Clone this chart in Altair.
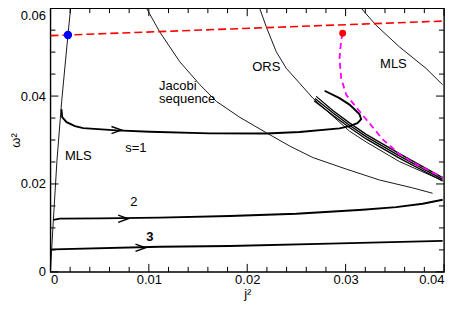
import altair as alt
import pandas as pd

# ---------------- data (j^2, omega^2) ----------------
mls_left_j = [0, 0.00012, 0.00030, 0.00066, 0.00114, 0.00178, 0.00205]
mls_left_w = [0, 0.00496, 0.01196, 0.02527, 0.0388, 0.05391, 0.06]

mls_right_j = [0.03158, 0.0331, 0.03546, 0.03817, 0.03986]
mls_right_w = [0.06, 0.0561, 0.05121, 0.04631, 0.04257]

jacobi_j = [0.00976, 0.01111, 0.01314, 0.01517, 0.01686, 0.01923, 0.02194, 0.0243, 0.02667, 0.03006, 0.03343, 0.03681, 0.03884]
jacobi_w = [0.06, 0.05459, 0.04782, 0.04263, 0.0388, 0.03519, 0.03165, 0.02865, 0.02601, 0.02339, 0.02091, 0.01911, 0.01789]

ors_j = [0.02126, 0.02194, 0.02295, 0.02397, 0.02532, 0.02667, 0.0287, 0.03039, 0.03209, 0.03546, 0.03986]
ors_w = [0.06, 0.05572, 0.05008, 0.04631, 0.04293, 0.03954, 0.03542, 0.03203, 0.02955, 0.02511, 0.02075]

bundle_a_j = [0.02701, 0.0287, 0.03039, 0.03209, 0.03546, 0.03986]
bundle_a_w = [0.03993, 0.0367, 0.0339, 0.03129, 0.02691, 0.02145]
bundle_b_j = [0.02689, 0.0287, 0.03039, 0.03209, 0.03546, 0.03986]
bundle_b_w = [0.03943, 0.03618, 0.03338, 0.03077, 0.02639, 0.02105]
bundle_c_j = [0.02679, 0.0287, 0.03039, 0.03209, 0.03546, 0.03986]
bundle_c_w = [0.03893, 0.03566, 0.03286, 0.03025, 0.02587, 0.02068]

s1_j = [0.00112, 0.00119, 0.00164, 0.00249, 0.00333, 0.00672, 0.0101, 0.01618, 0.02194, 0.02532,
        0.02938, 0.03039, 0.0312, 0.03158, 0.03141, 0.0309, 0.03039, 0.02938, 0.02786]
s1_w = [0.037, 0.03519, 0.03406, 0.03316, 0.03271, 0.03219, 0.03187, 0.03151, 0.03147, 0.03181,
        0.03264, 0.03316, 0.03384, 0.03474, 0.03587, 0.037, 0.03806, 0.03954, 0.04121]

s2_j = [0.00028, 0.00096, 0.00502, 0.01111, 0.01821, 0.02498, 0.03174, 0.03513, 0.03783, 0.03986]
s2_w = [0.01184, 0.01211, 0.01218, 0.01234, 0.0127, 0.01324, 0.01414, 0.01473, 0.0155, 0.0164]

s3_j = [0.00012, 0.00028, 0.01111, 0.01821, 0.02836, 0.03986]
s3_w = [0.00512, 0.00512, 0.00571, 0.00587, 0.00643, 0.00706]

red_j = [0.0, 0.04]
red_w = [0.05375, 0.05707]

magenta_j = [0.02971, 0.02955, 0.02938, 0.02955, 0.03006, 0.03141, 0.03377, 0.03546, 0.03716, 0.03986]
magenta_w = [0.0543, 0.05272, 0.04857, 0.04406, 0.04031, 0.03654, 0.03016, 0.02678, 0.02452, 0.0215]

blue_dot = (0.00178, 0.0539)
red_dot = (0.0297, 0.0543)

arrow_j = [0.00722, 0.0079, 0.00966]
arrow_w = [0.03226, 0.0121, 0.00549]

label_text = ["MLS", "s=1", "2", "Jacobi", "sequence", "ORS", "MLS"]
label_j = [0.00147, 0.00868, 0.00847, 0.01104, 0.01104, 0.02194, 0.03486]
label_w = [0.0264, 0.0282, 0.0158, 0.0424, 0.03925, 0.0467, 0.04737]
label_align = ["left", "center", "center", "left", "left", "center", "center"]
bold_text = ["3"]
bold_j = [0.0101]
bold_w = [0.0079]

x_major = [0, 0.01, 0.02, 0.03, 0.04]
x_minor = [0.002, 0.004, 0.006, 0.008, 0.012, 0.014, 0.016, 0.018,
           0.022, 0.024, 0.026, 0.028, 0.032, 0.034, 0.036, 0.038]
y_major = [0, 0.02, 0.04, 0.06]
y_minor = [0.005, 0.01, 0.015, 0.025, 0.03, 0.035, 0.045, 0.05, 0.055]

W, H = 394, 264
FONT = "Liberation Sans"


def curve(name, js, ws):
    return pd.DataFrame({"j": js, "w": ws, "series": name, "order": list(range(len(js)))})


X = alt.X("j:Q", scale=alt.Scale(domain=[0, 0.04], nice=False, zero=False),
          axis=alt.Axis(values=x_major, format="~g", title="j²", tickSize=0, domain=False,
                        grid=False, labelPadding=2, titlePadding=1))
Y = alt.Y("w:Q", scale=alt.Scale(domain=[0, 0.06], nice=False, zero=False),
          axis=alt.Axis(values=y_major, format="~g", title="ω²", tickSize=0, domain=False,
                        grid=False, labelPadding=5,
                        labelOffset={"condition": {"test": "datum.value > 0.059", "value": 7}, "value": 0},
                        titleX=-35, titleBaseline="middle"))


def lines(dfs, **mark):
    df = pd.concat(dfs, ignore_index=True)
    return alt.Chart(df).mark_line(clip=True, **mark).encode(
        x=X, y=Y, detail="series:N", order="order:Q")


thin = lines([curve("mlsl", mls_left_j, mls_left_w), curve("mlsr", mls_right_j, mls_right_w),
              curve("jac", jacobi_j, jacobi_w), curve("ors", ors_j, ors_w)],
             color="black", strokeWidth=0.9)
bundle = lines([curve("a", bundle_a_j, bundle_a_w), curve("b", bundle_b_j, bundle_b_w),
                curve("c", bundle_c_j, bundle_c_w)], color="black", strokeWidth=1.3)
thick = lines([curve("s1", s1_j, s1_w), curve("s2", s2_j, s2_w), curve("s3", s3_j, s3_w)],
              color="black", strokeWidth=1.9)
red = lines([curve("red", red_j, red_w)], color="#ff0000", strokeWidth=1.6, strokeDash=[8, 4])
mag = lines([curve("mag", magenta_j, magenta_w)], color="#ff00ff", strokeWidth=1.8, strokeDash=[6, 4])

arrows = alt.Chart(pd.DataFrame({"j": arrow_j, "w": arrow_w})).mark_point(
    shape="M -2.5 -0.9 L 0 0 L -2.5 0.9", size=64, filled=False, stroke="black",
    strokeWidth=1.4, opacity=1).encode(x=X, y=Y)

dots = alt.Chart(pd.DataFrame({"j": [blue_dot[0], red_dot[0]], "w": [blue_dot[1], red_dot[1]],
                               "c": ["#0000ff", "#ff0000"], "s": [70, 48]})).mark_point(
    filled=True, opacity=1, shape="circle").encode(
    x=X, y=Y, color=alt.Color("c:N", scale=None), size=alt.Size("s:Q", scale=None))

lab_df = pd.DataFrame({"j": label_j, "w": label_w, "t": label_text, "a": label_align})
labels_left = alt.Chart(lab_df[lab_df.a == "left"]).mark_text(
    font=FONT, fontSize=13, align="left", baseline="middle", color="black").encode(x=X, y=Y, text="t:N")
labels_center = alt.Chart(lab_df[lab_df.a == "center"]).mark_text(
    font=FONT, fontSize=13, align="center", baseline="middle", color="black").encode(x=X, y=Y, text="t:N")
labels_bold = alt.Chart(pd.DataFrame({"j": bold_j, "w": bold_w, "t": bold_text})).mark_text(
    font=FONT, fontSize=13, fontWeight="bold", align="center", baseline="middle", color="black").encode(
    x=X, y=Y, text="t:N")


def xticks(vals, y0, y1):
    return alt.Chart(pd.DataFrame({"j": vals})).mark_rule(color="black", strokeWidth=1).encode(
        x=X, y=alt.value(y0), y2=alt.value(y1))


def yticks(vals, x0, x1):
    return alt.Chart(pd.DataFrame({"w": vals})).mark_rule(color="black", strokeWidth=1).encode(
        y=Y, x=alt.value(x0), x2=alt.value(x1))


ticks = [
    xticks(x_major, H, H - 8), xticks(x_minor, H, H - 5),
    xticks(x_major, 0, 8), xticks(x_minor, 0, 5),
    yticks(y_major, 0, 8), yticks(y_minor, 0, 5),
    yticks(y_major, W, W - 8), yticks(y_minor, W, W - 5),
]

chart = alt.layer(
    *ticks, thin, bundle, thick, mag, red, arrows, dots, labels_left, labels_center, labels_bold
).properties(
    width=W, height=H,
    autosize=alt.AutoSizeParams(type="none"),
    padding={"left": 42.5, "top": 0, "right": 6, "bottom": 30},
).configure_view(
    stroke="black", strokeWidth=1.4
).configure_axis(
    labelFont=FONT, labelFontSize=13, labelColor="black",
    titleFont=FONT, titleFontSize=13, titleFontWeight="normal", titleColor="black"
)

chart.save("out.html", embed_options={"renderer": "svg", "actions": False})
